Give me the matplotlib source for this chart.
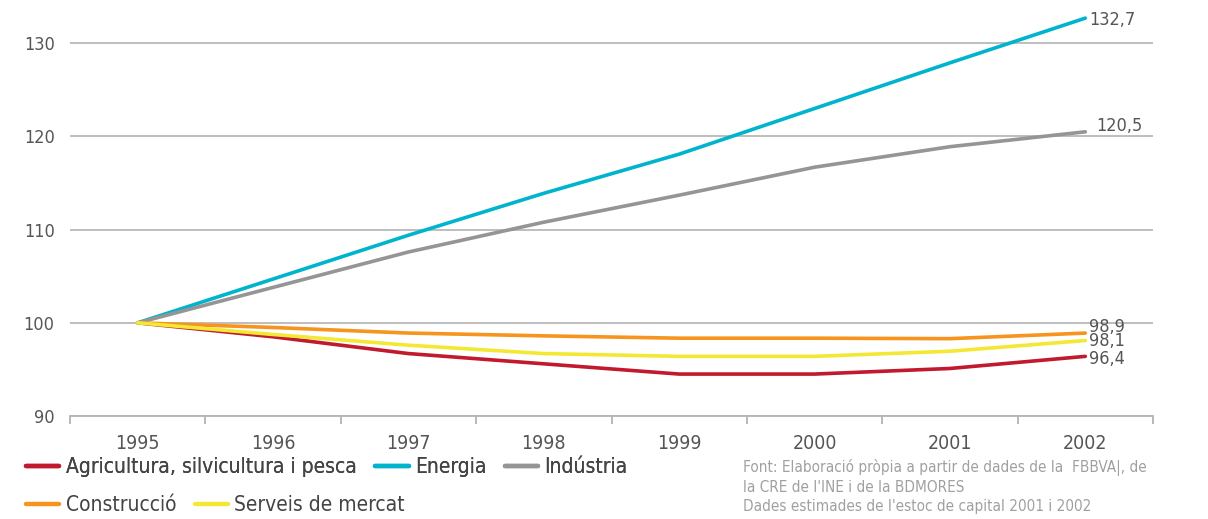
import numpy as np
import matplotlib
matplotlib.use("Agg")
import matplotlib.pyplot as plt

plt.rcParams['font.family'] = ['DejaVu Sans']
plt.rcParams['font.stretch'] = 'condensed'

years = ['1995', '1996', '1997', '1998', '1999', '2000', '2001', '2002']

agricultura = [100, 98.5, 96.7, 95.6, 94.5, 94.5, 95.1, 96.4]
energia = [100, 104.7, 109.4, 113.9, 118.1, 123.0, 127.9, 132.7]
industria = [100, 103.8, 107.6, 110.8, 113.7, 116.7, 118.9, 120.5]
construccio = [100, 99.5, 98.9, 98.6, 98.35, 98.35, 98.3, 98.9]
serveis = [100, 98.75, 97.6, 96.7, 96.4, 96.4, 96.95, 98.1]

series_names = ['Agricultura, silvicultura i pesca', 'Energia', 'Indústria',
                'Construcció', 'Serveis de mercat']
end_labels = ['96,4', '132,7', '120,5', '98,9', '98,1']

colors = ['#c1192d', '#00b4cd', '#959595', '#f7941d', '#f3e934']
# label offsets in points (dx, dy) for the values at the end of the lines
label_offsets = [(3, -2), (3, -1), (8, 4), (3, 4.5), (3, -0.5)]

source_lines = [
    "Font: Elaboració pròpia a partir de dades de la  FBBVA|, de",
    "la CRE de l'INE i de la BDMORES",
    "Dades estimades de l'estoc de capital 2001 i 2002",
]

fig = plt.figure(figsize=(12.08, 5.19), dpi=100)
ax = fig.add_axes([70 / 1208, 103 / 519, 1083 / 1208, 410 / 519])

x = np.arange(len(years))
all_series = [agricultura, energia, industria, construccio, serveis]
handles = []
for vals, name, col, lab, off in zip(all_series, series_names, colors, end_labels, label_offsets):
    h, = ax.plot(x, vals, color=col, lw=2.6, solid_capstyle='round',
                 solid_joinstyle='round', label=name, clip_on=False, zorder=3)
    handles.append(h)
    ax.annotate(lab, (x[-1], vals[-1]), xytext=off, textcoords='offset points',
                ha='left', va='center', fontsize=13, color='#555555', zorder=4)

ax.set_xlim(-0.5, len(years) - 0.5)
ax.set_ylim(90, 134)
ax.set_yticks([90, 100, 110, 120, 130])
ax.set_yticklabels(['90', '100', '110', '120', '130'])
ax.set_xticks(x)
ax.set_xticklabels(years)
ax.set_xticks(np.arange(-0.5, len(years)), minor=True)

ax.yaxis.grid(True, color='#b3b3b3', lw=1.2)
ax.set_axisbelow(True)
for s in ['top', 'right', 'left']:
    ax.spines[s].set_visible(False)
ax.spines['bottom'].set_color('#b3b3b3')
ax.spines['bottom'].set_linewidth(1.3)

ax.tick_params(axis='y', length=0, pad=11, labelsize=13, labelcolor='#555555')
ax.tick_params(axis='x', which='major', length=0, pad=13, labelsize=14, labelcolor='#555555')
ax.tick_params(axis='x', which='minor', length=6, width=1.3, color='#b3b3b3', direction='out')

# legend in two rows, as in the original
leg_kw = dict(loc='center left', frameon=False, fontsize=15, handlelength=1.6,
              handletextpad=0.3, columnspacing=0.9, borderaxespad=0, borderpad=0,
              labelcolor='#444444')
leg1 = fig.legend(handles[:3], series_names[:3], ncol=3,
                  bbox_to_anchor=(26 / 1208, 1 - 467 / 519), **leg_kw)
leg2 = fig.legend(handles[3:], series_names[3:], ncol=2,
                  bbox_to_anchor=(26 / 1208, 1 - 505 / 519), **leg_kw)
for lg in (leg1, leg2):
    for ln in lg.get_lines():
        ln.set_linewidth(3.2)
fig.add_artist(leg1)

for i, line in enumerate(source_lines):
    fig.text(743 / 1208, 1 - (467 + 20 * i) / 519, line, ha='left', va='center',
             fontsize=11, color='#a0a0a0')

fig.savefig('out.png', dpi=100)
